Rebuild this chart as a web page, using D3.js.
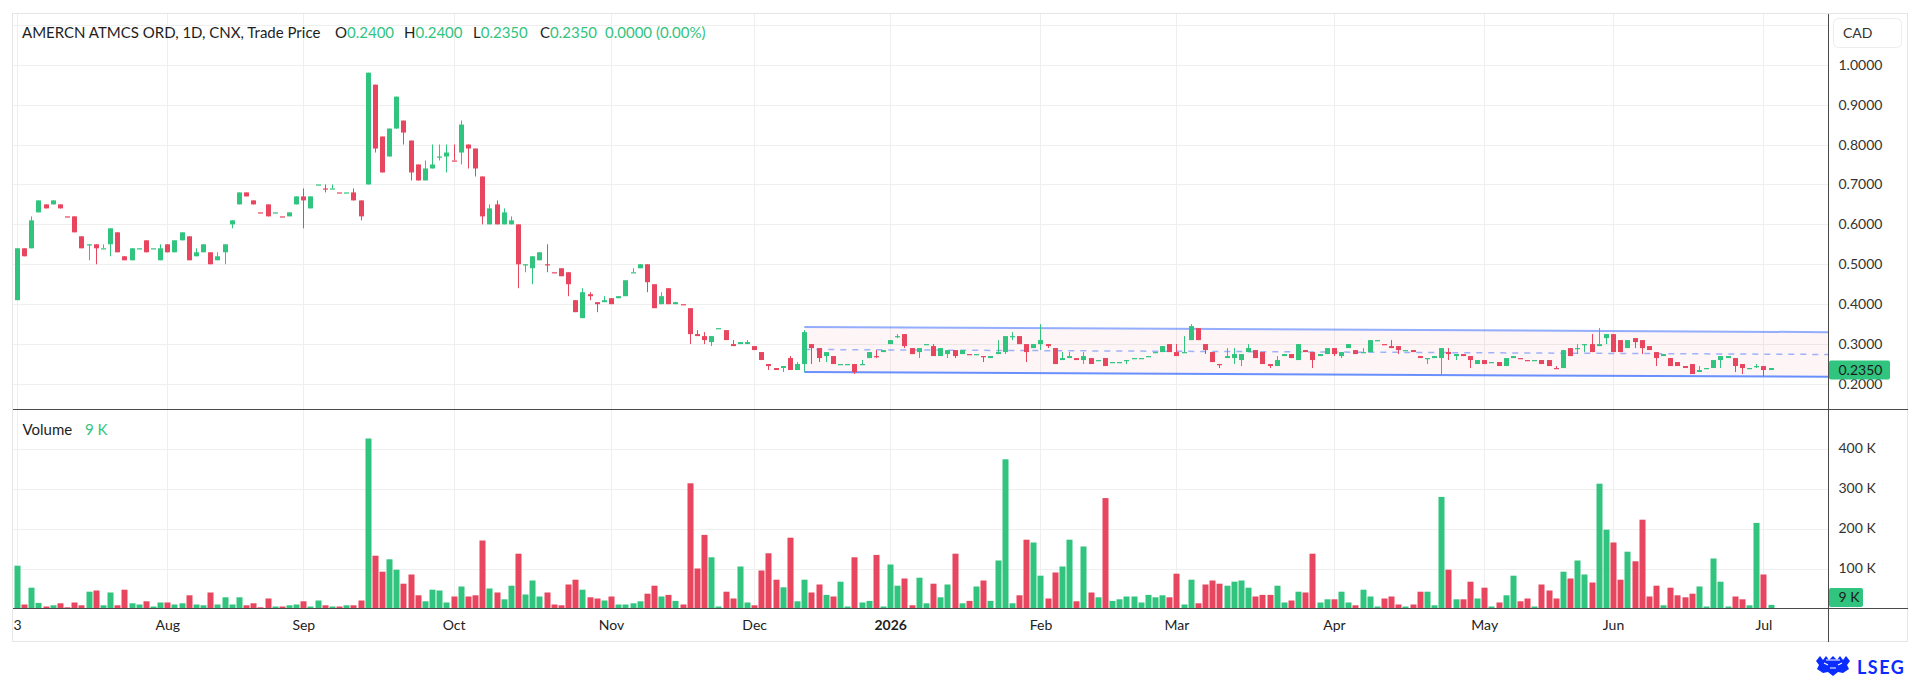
<!DOCTYPE html>
<html>
<head>
<meta charset="utf-8">
<title>AMERCN ATMCS ORD, 1D, CNX</title>
<script src="https://cdn.jsdelivr.net/npm/d3@7"></script>
<style>
    html, body { margin: 0; padding: 0; background: #fff; }
    svg { display: block; font-family: Lato, "Noto Sans", sans-serif; }
    .grid-line { stroke: #efefef; stroke-width: 1; shape-rendering: crispEdges; }
    .frame-line { stroke: #e6e6e6; stroke-width: 1; shape-rendering: crispEdges; }
    .dark-line { stroke: #4a4a4a; stroke-width: 1.2; shape-rendering: crispEdges; }
    .axis path, .axis line { display: none; }
    .axis text { font-family: Lato, "Noto Sans", sans-serif; font-size: 14px; fill: #333; }
</style>
</head>
<body>
<div id="graphHolder" style="width:1920px;height:681px"></div>
<script>
'use strict';

// daily candles, one per trading day, oldest first
var openPrices = [
    .41, .54, .54, .63, .65, .65, .65, .62, .62, .57,
    .55, .55, .54, .55, .58, .52, .51, .54, .56, .54,
    .51, .55, .53, .56, .57, .52, .53, .53, .51, .53,
    .60, .65, .68, .66, .63, .65, .63, .62, .62, .65,
    .67, .64, .70, .69, .69, .68, .68, .68, .66, .70,
    .95, .82, .77, .84, .86, .81, .75, .71, .74, .77,
    .77, .76, .78, .80, .79, .72, .60, .65, .60, .60,
    .60, .50, .49, .51, .50, .48, .49, .48, .41, .365,
    .425, .405, .405, .415, .415, .42, .48, .49, .50, .45,
    .40, .44, .40, .40, .39, .325, .32, .305, .34, .335,
    .30, .30, .30, .295, .28, .25, .24, .24, .265, .235,
    .25, .30, .29, .27, .27, .25, .25, .25, .25, .265,
    .27, .28, .30, .32, .325, .29, .28, .30, .295, .27,
    .275, .285, .275, .275, .275, .27, .265, .275, .28, .32,
    .32, .30, .29, .30, .30, .29, .26, .265, .265, .26,
    .265, .26, .265, .255, .255, .26, .265, .265, .27, .28,
    .28, .30, .28, .28, .31, .34, .30, .28, .25, .265,
    .265, .26, .28, .285, .28, .25, .245, .27, .275, .26,
    .285, .28, .27, .275, .29, .27, .29, .285, .28, .28,
    .31, .30, .295, .295, .285, .285, .27, .265, .265, .265,
    .28, .27, .275, .27, .25, .26, .255, .255, .245, .265,
    .265, .26, .26, .26, .26, .24, .24, .29, .29, .30,
    .30, .295, .315, .325, .31, .29, .315, .31, .295, .28,
    .27, .265, .255, .245, .25, .23, .24, .24, .26, .265,
    .265, .25, .24, .245, .245, .235
];
var highPrices = [
    .54, .54, .62, .66, .65, .66, .65, .62, .62, .57,
    .55, .55, .55, .59, .58, .52, .54, .54, .56, .54,
    .55, .55, .56, .58, .57, .54, .55, .53, .53, .55,
    .61, .68, .68, .66, .63, .65, .63, .62, .63, .67,
    .69, .67, .70, .70, .70, .68, .68, .69, .66, .98,
    .95, .82, .84, .92, .86, .81, .75, .76, .80, .80,
    .80, .80, .86, .80, .79, .72, .65, .66, .64, .62,
    .60, .50, .52, .53, .55, .48, .49, .48, .41, .44,
    .43, .405, .42, .415, .42, .46, .49, .50, .50, .45,
    .43, .44, .405, .40, .39, .335, .33, .32, .34, .335,
    .31, .305, .31, .295, .28, .25, .24, .245, .27, .255,
    .335, .30, .29, .28, .27, .25, .25, .25, .26, .28,
    .285, .285, .31, .325, .325, .29, .29, .30, .30, .29,
    .285, .285, .285, .275, .275, .27, .27, .31, .32, .33,
    .32, .30, .30, .35, .30, .29, .28, .28, .265, .28,
    .265, .26, .265, .255, .255, .26, .265, .265, .27, .28,
    .295, .30, .30, .32, .35, .34, .30, .28, .25, .29,
    .29, .275, .30, .285, .28, .25, .27, .275, .275, .30,
    .285, .28, .275, .29, .29, .28, .30, .285, .29, .31,
    .31, .30, .31, .295, .285, .285, .27, .265, .27, .29,
    .29, .275, .275, .27, .26, .26, .255, .255, .265, .27,
    .265, .26, .26, .26, .26, .245, .285, .29, .30, .30,
    .325, .34, .325, .325, .31, .31, .315, .31, .295, .28,
    .275, .265, .255, .245, .25, .245, .24, .26, .27, .27,
    .265, .25, .24, .25, .245, .24
];
var lowPrices = [
    .41, .52, .54, .63, .64, .65, .64, .62, .58, .54,
    .51, .50, .54, .52, .53, .51, .51, .54, .53, .54,
    .51, .53, .53, .56, .51, .52, .53, .50, .51, .50,
    .59, .65, .67, .65, .63, .62, .63, .62, .62, .65,
    .59, .64, .70, .68, .69, .68, .68, .66, .61, .70,
    .78, .73, .77, .84, .80, .71, .71, .71, .74, .76,
    .73, .76, .75, .74, .72, .60, .60, .60, .60, .60,
    .44, .48, .45, .51, .48, .48, .47, .42, .38, .365,
    .41, .38, .405, .40, .415, .42, .48, .49, .43, .39,
    .40, .40, .40, .40, .30, .32, .30, .295, .34, .31,
    .295, .30, .30, .285, .26, .235, .235, .23, .235, .235,
    .23, .25, .255, .255, .25, .25, .25, .225, .25, .265,
    .265, .28, .30, .315, .29, .275, .265, .30, .27, .27,
    .265, .265, .275, .275, .275, .255, .265, .275, .275, .31,
    .30, .255, .29, .285, .29, .25, .26, .265, .26, .25,
    .25, .26, .245, .255, .255, .25, .265, .265, .27, .28,
    .28, .28, .27, .28, .31, .31, .275, .255, .24, .265,
    .25, .245, .28, .265, .25, .24, .245, .27, .265, .26,
    .28, .24, .27, .275, .27, .265, .29, .275, .28, .28,
    .31, .30, .29, .275, .285, .28, .265, .25, .265, .22,
    .26, .26, .27, .24, .25, .25, .255, .245, .245, .265,
    .265, .26, .26, .25, .245, .24, .24, .27, .275, .28,
    .28, .295, .30, .28, .28, .29, .29, .275, .285, .245,
    .27, .245, .245, .24, .225, .23, .24, .24, .24, .265,
    .23, .225, .24, .24, .22, .235
];
var closePrices = [
    .54, .52, .61, .66, .64, .66, .64, .62, .58, .54,
    .55, .54, .54, .59, .53, .51, .54, .54, .53, .54,
    .54, .53, .56, .58, .51, .53, .55, .50, .52, .55,
    .61, .68, .67, .65, .63, .62, .63, .62, .63, .67,
    .66, .67, .70, .69, .69, .68, .68, .66, .62, .98,
    .79, .73, .84, .92, .83, .73, .71, .74, .75, .77,
    .78, .76, .85, .79, .74, .62, .64, .60, .63, .61,
    .50, .50, .52, .53, .50, .48, .47, .45, .38, .43,
    .42, .40, .41, .40, .42, .46, .48, .50, .455, .39,
    .42, .40, .405, .40, .325, .32, .31, .32, .34, .31,
    .295, .305, .305, .285, .26, .245, .235, .245, .235, .25,
    .33, .29, .265, .28, .25, .25, .25, .23, .25, .28,
    .27, .285, .31, .32, .295, .275, .29, .30, .27, .29,
    .285, .27, .285, .275, .275, .27, .27, .28, .32, .32,
    .30, .28, .30, .31, .295, .25, .265, .27, .26, .27,
    .25, .26, .245, .255, .255, .26, .265, .265, .27, .28,
    .295, .28, .27, .28, .345, .31, .285, .255, .25, .27,
    .275, .275, .29, .265, .25, .245, .26, .275, .265, .30,
    .28, .26, .275, .29, .275, .28, .30, .275, .28, .31,
    .31, .30, .29, .285, .285, .28, .265, .265, .27, .29,
    .275, .275, .27, .26, .26, .25, .255, .245, .265, .27,
    .265, .26, .26, .25, .245, .24, .285, .27, .29, .30,
    .28, .30, .325, .28, .28, .31, .305, .29, .285, .265,
    .275, .245, .245, .24, .225, .235, .24, .26, .27, .27,
    .245, .24, .24, .245, .235, .24
];
// volume in thousands of shares
var volumeThousands = [
    107, 10, 52, 14, 5, 8, 13, 3, 15, 8,
    42, 45, 8, 40, 8, 47, 13, 10, 18, 5,
    15, 15, 10, 13, 33, 10, 8, 40, 10, 28,
    10, 28, 8, 13, 3, 25, 5, 5, 8, 10,
    18, 5, 20, 8, 5, 5, 8, 8, 20, 425,
    132, 92, 123, 97, 62, 85, 33, 18, 47, 45,
    15, 30, 55, 30, 33, 170, 50, 40, 23, 57,
    137, 35, 70, 30, 40, 10, 8, 60, 72, 47,
    28, 25, 20, 30, 10, 10, 13, 18, 37, 57,
    30, 34, 19, 10, 313, 100, 184, 128, 5, 42,
    25, 105, 15, 8, 95, 138, 72, 53, 177, 18,
    72, 40, 60, 34, 30, 67, 5, 128, 15, 19,
    134, 5, 110, 57, 75, 8, 77, 13, 62, 28,
    60, 137, 13, 19, 55, 70, 19, 120, 373, 13,
    33, 172, 165, 82, 25, 90, 105, 172, 18, 155,
    40, 28, 276, 19, 23, 30, 30, 15, 34, 28,
    33, 28, 87, 10, 72, 13, 60, 70, 62, 57,
    67, 70, 52, 30, 34, 34, 57, 15, 20, 42,
    40, 137, 15, 23, 23, 42, 15, 8, 47, 30,
    5, 25, 30, 10, 5, 10, 42, 42, 8, 279,
    97, 23, 23, 67, 25, 52, 5, 15, 33, 82,
    18, 25, 5, 60, 45, 25, 92, 75, 120, 85,
    65, 312, 197, 165, 72, 142, 118, 222, 30, 57,
    8, 52, 33, 28, 37, 55, 5, 125, 67, 5,
    30, 23, 8, 214, 85, 9
];

// month labels sit on the first candle of each month
var tickIndex = [0, 21, 40, 61, 83, 103, 122, 143, 162, 184, 205, 223, 244];
var tickLabels = ["3", "Aug", "Sep", "Oct", "Nov", "Dec", "2026", "Feb", "Mar", "Apr", "May", "Jun", "Jul"];
var priceTicks = [0.2, 0.3, 0.4, 0.5, 0.6, 0.7, 0.8, 0.9, 1.0];
var priceGrid = [0.2, 0.3, 0.4, 0.5, 0.6, 0.7, 0.8, 0.9, 1.0, 1.1];
var volumeTicks = [100, 200, 300, 400];

var titleText = "AMERCN ATMCS ORD, 1D, CNX, Trade Price";
var quoteLabels = ["O", "H", "L", "C"];
var quoteValues = ["0.2400", "0.2400", "0.2350", "0.2350"];
var quoteChange = "0.0000 (0.00%)";
var lastPrice = 0.235;

// parallel channel drawing: anchors at two candles, extended to the right
var channelIndex = [110, 245];
var channelUpper = [0.343, 0.3307];
var channelLower = [0.230, 0.2187];

var UP = "#31c47f", DOWN = "#e8455e", TEXT = "#333";

function candleChart() {
    var _chart = {};
    var _width = 1920, _height = 681;
    var _frame = {left: 12.5, top: 13.5, right: 1907.5, bottom: 641.5};
    var _axisX = 1828.5, _priceBottom = 409.5, _volumeBottom = 608.5;
    var _svg, _xScale, _yPrice, _yVol, _candles;

    _chart.render = function () {
        _svg = d3.select("#graphHolder").append("svg")
                .attr("width", _width)
                .attr("height", _height);

        _xScale = d3.scaleLinear().domain([0, openPrices.length - 1]).range([17, 1770.5]);
        _yPrice = d3.scaleLinear().domain([0.2, 1.0]).range([384, 64.7]);
        _yVol = d3.scaleLinear().domain([0, 400]).range([_volumeBottom, 448.5]);

        _candles = openPrices.map(function (o, i) {
            var c = closePrices[i];
            var up = c > o ? true : c < o ? false : (i === 0 || c >= closePrices[i - 1]);
            return {i: i, o: o, h: highPrices[i], l: lowPrices[i], c: c, v: volumeThousands[i], up: up};
        });

        renderGrid();
        renderChannel();
        renderCandles();
        renderVolume();
        renderFrame();
        renderAxes();
        renderLegends();
        renderLogo();
    };

    function renderGrid() {
        var g = _svg.append("g").attr("class", "grid");
        g.selectAll("line.v").data(tickIndex).enter().append("line")
                .attr("class", "grid-line v")
                .attr("x1", function (d) { return Math.round(_xScale(d)) + 0.5; })
                .attr("x2", function (d) { return Math.round(_xScale(d)) + 0.5; })
                .attr("y1", _frame.top)
                .attr("y2", _volumeBottom);
        g.selectAll("line.p").data(priceGrid).enter().append("line")
                .attr("class", "grid-line p")
                .attr("x1", _frame.left)
                .attr("x2", _axisX)
                .attr("y1", function (d) { return Math.round(_yPrice(d)) + 0.5; })
                .attr("y2", function (d) { return Math.round(_yPrice(d)) + 0.5; });
        g.selectAll("line.vol").data(volumeTicks).enter().append("line")
                .attr("class", "grid-line vol")
                .attr("x1", _frame.left)
                .attr("x2", _axisX)
                .attr("y1", function (d) { return Math.round(_yVol(d)) + 0.5; })
                .attr("y2", function (d) { return Math.round(_yVol(d)) + 0.5; });
    }

    function renderChannel() {
        var endIndex = _xScale.invert(_axisX);
        var slope = function (vals) {
            return function (i) {
                var t = (i - channelIndex[0]) / (channelIndex[1] - channelIndex[0]);
                return vals[0] + t * (vals[1] - vals[0]);
            };
        };
        var upper = slope(channelUpper), lower = slope(channelLower);
        var mid = function (i) { return (upper(i) + lower(i)) / 2; };
        var ends = [channelIndex[0], endIndex];
        var line = function (fn) {
            return d3.line()
                    .x(function (d) { return _xScale(d); })
                    .y(function (d) { return _yPrice(fn(d)); })(ends);
        };
        var area = d3.area()
                .x(function (d) { return _xScale(d); })
                .y0(function (d) { return _yPrice(lower(d)); })
                .y1(function (d) { return _yPrice(upper(d)); });

        var g = _svg.append("g").attr("class", "channel");
        g.append("path").attr("d", area(ends)).attr("fill", "rgba(242, 54, 69, 0.05)");
        g.append("path").attr("d", line(mid))
                .attr("fill", "none").attr("stroke", "#2962ff").attr("stroke-opacity", 0.45)
                .attr("stroke-width", 1.5).attr("stroke-dasharray", "6 6");
        g.append("path").attr("d", line(upper))
                .attr("fill", "none").attr("stroke", "#2962ff").attr("stroke-opacity", 0.5)
                .attr("stroke-width", 2);
        g.append("path").attr("d", line(lower))
                .attr("fill", "none").attr("stroke", "#2962ff").attr("stroke-opacity", 0.7)
                .attr("stroke-width", 2);
    }

    function renderCandles() {
        var g = _svg.append("g").attr("class", "candles");
        var color = function (d) { return d.up ? UP : DOWN; };

        g.selectAll("line.wick").data(_candles).enter().append("line")
                .attr("class", "wick")
                .attr("x1", function (d) { return Math.round(_xScale(d.i)) + 0.5; })
                .attr("x2", function (d) { return Math.round(_xScale(d.i)) + 0.5; })
                .attr("y1", function (d) { return _yPrice(d.h); })
                .attr("y2", function (d) { return _yPrice(d.l); })
                .attr("stroke", color)
                .attr("stroke-width", 1);

        g.selectAll("rect.body").data(_candles).enter().append("rect")
                .attr("class", "body")
                .attr("x", function (d) { return Math.round(_xScale(d.i)) - 2; })
                .attr("width", 5)
                .attr("y", function (d) { return _yPrice(Math.max(d.o, d.c)); })
                .attr("height", function (d) {
                    return Math.max(1.2, Math.abs(_yPrice(d.o) - _yPrice(d.c)));
                })
                .attr("fill", color);
    }

    function renderVolume() {
        _svg.append("g").attr("class", "volume")
                .selectAll("rect").data(_candles).enter().append("rect")
                .attr("x", function (d) { return Math.round(_xScale(d.i)) - 2.5; })
                .attr("width", 6)
                .attr("y", function (d) { return _yVol(d.v); })
                .attr("height", function (d) { return _yVol(0) - _yVol(d.v); })
                .attr("fill", function (d) { return d.up ? UP : DOWN; });
    }

    function renderFrame() {
        var g = _svg.append("g").attr("class", "frame");
        g.append("rect")
                .attr("x", _frame.left).attr("y", _frame.top)
                .attr("width", _frame.right - _frame.left)
                .attr("height", _frame.bottom - _frame.top)
                .attr("fill", "none").attr("class", "frame-line");
        g.append("line").attr("class", "dark-line")
                .attr("x1", _axisX).attr("x2", _axisX)
                .attr("y1", _frame.top).attr("y2", _frame.bottom);
        [_priceBottom, _volumeBottom].forEach(function (y) {
            g.append("line").attr("class", "dark-line")
                    .attr("x1", _frame.left).attr("x2", _frame.right)
                    .attr("y1", y).attr("y2", y);
        });
    }

    function renderAxes() {
        var priceAxis = d3.axisRight(_yPrice)
                .tickValues(priceTicks)
                .tickFormat(d3.format(".4f"))
                .tickSize(0)
                .tickPadding(10);
        _svg.append("g").attr("class", "axis price")
                .attr("transform", "translate(" + _axisX + ",0)")
                .call(priceAxis);

        var volAxis = d3.axisRight(_yVol)
                .tickValues(volumeTicks)
                .tickFormat(function (d) { return d + " K"; })
                .tickSize(0)
                .tickPadding(10);
        _svg.append("g").attr("class", "axis vol")
                .attr("transform", "translate(" + _axisX + ",0)")
                .call(volAxis);

        var xAxis = d3.axisBottom(_xScale)
                .tickValues(tickIndex)
                .tickFormat(function (d, i) { return tickLabels[i]; })
                .tickSize(0)
                .tickPadding(12);
        _svg.append("g").attr("class", "axis x")
                .attr("transform", "translate(0," + _volumeBottom + ")")
                .call(xAxis)
                .selectAll("text")
                .style("font-weight", function (d, i) { return tickLabels[i] === "2026" ? "bold" : null; })
                .style("fill", "#222");

        // currency box
        _svg.append("rect")
                .attr("x", 1833.5).attr("y", 18.5).attr("width", 68).attr("height", 29).attr("rx", 5)
                .attr("fill", "#fff").attr("stroke", "#ececec");
        _svg.append("text")
                .attr("x", 1843).attr("y", 33).attr("dy", "0.35em")
                .style("font-size", "14px").style("fill", TEXT)
                .text("CAD");

        // last price and last volume tags
        var py = _yPrice(lastPrice);
        _svg.append("rect")
                .attr("x", _axisX + 0.5).attr("y", py - 9.5).attr("width", 61).attr("height", 19).attr("rx", 2)
                .attr("fill", UP);
        _svg.append("text")
                .attr("x", _axisX + 10).attr("y", py).attr("dy", "0.35em")
                .style("font-size", "14px").style("fill", "#1b1b1b")
                .text(d3.format(".4f")(lastPrice));

        var lastVol = volumeThousands[volumeThousands.length - 1];
        var vy = Math.min(_yVol(lastVol), _volumeBottom - 11);
        _svg.append("rect")
                .attr("x", _axisX + 0.5).attr("y", vy - 9.5).attr("width", 34).attr("height", 19).attr("rx", 2)
                .attr("fill", UP);
        _svg.append("text")
                .attr("x", _axisX + 10).attr("y", vy).attr("dy", "0.35em")
                .style("font-size", "14px").style("fill", "#1b1b1b")
                .text(lastVol + " K");
    }

    function renderLegends() {
        var t = _svg.append("text")
                .attr("y", 33).attr("dy", "0.35em")
                .style("font-size", "15px").style("fill", "#1e1e1e");
        t.append("tspan").attr("x", 22).text(titleText);
        var xs = [335, 404, 473, 540];
        quoteLabels.forEach(function (lab, i) {
            t.append("tspan").attr("x", xs[i]).text(lab);
            t.append("tspan").style("fill", UP).text(quoteValues[i]);
        });
        t.append("tspan").attr("x", 605).style("fill", UP).text(quoteChange);

        var v = _svg.append("text")
                .attr("y", 430).attr("dy", "0.35em")
                .style("font-size", "15px").style("fill", "#1e1e1e");
        v.append("tspan").attr("x", 22.5).text("Volume");
        v.append("tspan").attr("x", 85).style("fill", UP)
                .text(volumeThousands[volumeThousands.length - 1] + " K");
    }

    function renderLogo() {
        var blue = "#0a2cff";
        var g = _svg.append("g").attr("transform", "translate(1816,656)");
        g.append("path")
                .attr("d", "M0,5 L4,0 L7,4 L10,0 L13,4 L17,0 L21,4 L24,0 L27,4 L30,0 L34,5 L31,9 L33,13 L27,17 L22,16 L17,20 L12,16 L7,17 L1,13 L3,9 Z")
                .attr("fill", blue);
        g.append("path")
                .attr("d", "M8,7 L12,9 M22,9 L26,7 M14,12 L20,12 M10,4 L24,4")
                .attr("stroke", "#fff").attr("stroke-width", 1.2).attr("fill", "none");
        _svg.append("text")
                .attr("x", 1857).attr("y", 674)
                .style("font-size", "18px").style("font-weight", "bold")
                .style("letter-spacing", "1.5px").style("fill", blue)
                .text("LSEG");
    }

    return _chart;
}

candleChart().render();
</script>
</body>
</html>
